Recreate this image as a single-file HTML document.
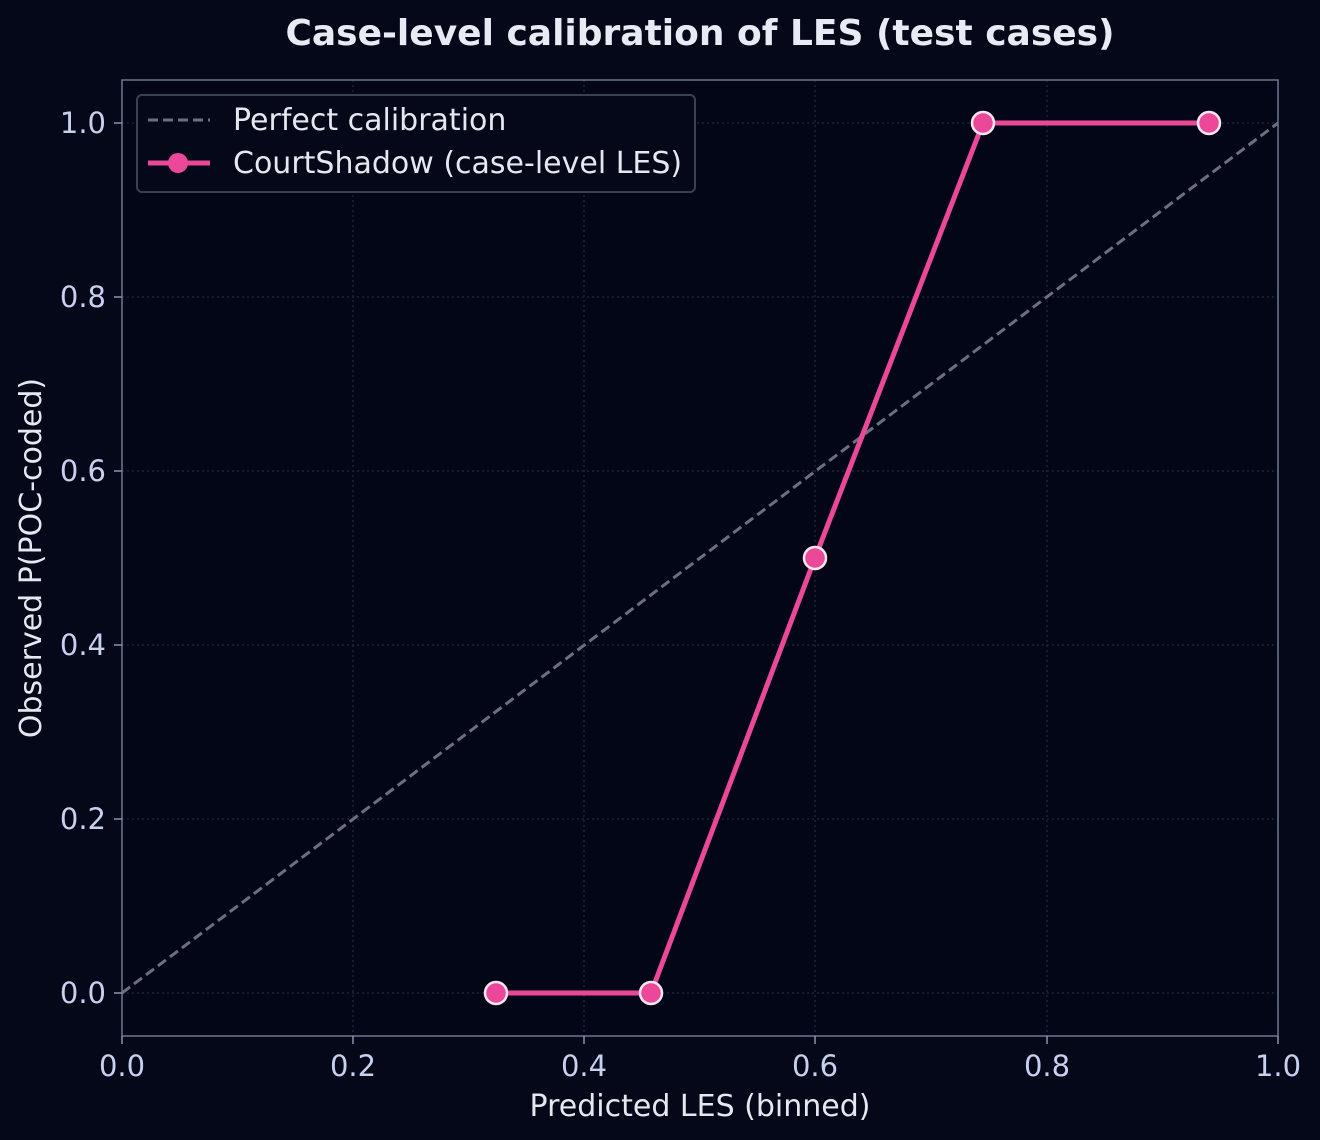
<!DOCTYPE html><html><head><style>body{margin:0;background:#050818;}svg{display:block}text{font-family:"DejaVu Sans","Liberation Sans",sans-serif}</style></head><body>
<svg width="1320" height="1140" xmlns="http://www.w3.org/2000/svg">
<rect width="1320" height="1140" fill="#050818"/>
<rect x="122" y="80" width="1156" height="956" fill="#030616"/>
<g stroke="#1c2236" stroke-width="1.5" stroke-dasharray="2,3">
<line x1="353" y1="80" x2="353" y2="1036"/><line x1="584" y1="80" x2="584" y2="1036"/><line x1="815" y1="80" x2="815" y2="1036"/><line x1="1047" y1="80" x2="1047" y2="1036"/>
<line x1="122" y1="993" x2="1278" y2="993"/><line x1="122" y1="819" x2="1278" y2="819"/><line x1="122" y1="645" x2="1278" y2="645"/><line x1="122" y1="471" x2="1278" y2="471"/><line x1="122" y1="297" x2="1278" y2="297"/><line x1="122" y1="123" x2="1278" y2="123"/>
</g>
<rect x="122" y="80" width="1156" height="956" fill="none" stroke="#6b7790" stroke-width="1.5"/>
<line x1="122" y1="993" x2="1278" y2="123" stroke="#6b7080" stroke-width="3" stroke-dasharray="10,5"/>
<polyline points="496,993 651,993 815,558 983,123 1209,123" fill="none" stroke="#ec4899" stroke-width="5"/>
<g fill="#ec4899" stroke="#fbe7f2" stroke-width="2.5"><circle cx="496" cy="993" r="11"/><circle cx="651" cy="993" r="11"/><circle cx="815" cy="558" r="11"/><circle cx="983" cy="123" r="11"/><circle cx="1209" cy="123" r="11"/></g>
<g stroke="#8a93ad" stroke-width="1.5"><line x1="122" y1="1036" x2="122" y2="1044"/><line x1="353" y1="1036" x2="353" y2="1044"/><line x1="584" y1="1036" x2="584" y2="1044"/><line x1="815" y1="1036" x2="815" y2="1044"/><line x1="1047" y1="1036" x2="1047" y2="1044"/><line x1="1278" y1="1036" x2="1278" y2="1044"/>
<line x1="114" y1="993" x2="122" y2="993"/><line x1="114" y1="819" x2="122" y2="819"/><line x1="114" y1="645" x2="122" y2="645"/><line x1="114" y1="471" x2="122" y2="471"/><line x1="114" y1="297" x2="122" y2="297"/><line x1="114" y1="123" x2="122" y2="123"/></g>
<g fill="#c8d0f0" font-size="29" text-anchor="middle"><text x="122" y="1076">0.0</text><text x="353" y="1076">0.2</text><text x="584" y="1076">0.4</text><text x="815" y="1076">0.6</text><text x="1047" y="1076">0.8</text><text x="1278" y="1076">1.0</text></g>
<g fill="#c8d0f0" font-size="29" text-anchor="end"><text x="106" y="1003">0.0</text><text x="106" y="829">0.2</text><text x="106" y="655">0.4</text><text x="106" y="481">0.6</text><text x="106" y="307">0.8</text><text x="106" y="133">1.0</text></g>
<text x="700" y="1116" fill="#e6e8f0" font-size="30" text-anchor="middle">Predicted LES (binned)</text>
<text transform="translate(41,558) rotate(-90)" fill="#e6e8f0" font-size="30" text-anchor="middle">Observed P(POC-coded)</text>
<text x="700" y="45" fill="#e8eaf4" font-size="36" font-weight="bold" text-anchor="middle">Case-level calibration of LES (test cases)</text>
<rect x="137" y="95" width="558" height="97" rx="5" fill="#050818" stroke="#3a4154" stroke-width="2"/>
<line x1="148" y1="120" x2="210" y2="120" stroke="#6b7080" stroke-width="3" stroke-dasharray="10,5"/>
<line x1="148" y1="163" x2="210" y2="163" stroke="#ec4899" stroke-width="5"/>
<circle cx="178" cy="163" r="10" fill="#ec4899"/>
<text x="233" y="130" fill="#e6e8f0" font-size="30">Perfect calibration</text>
<text x="233" y="173" fill="#e6e8f0" font-size="30">CourtShadow (case-level LES)</text>
</svg></body></html>
